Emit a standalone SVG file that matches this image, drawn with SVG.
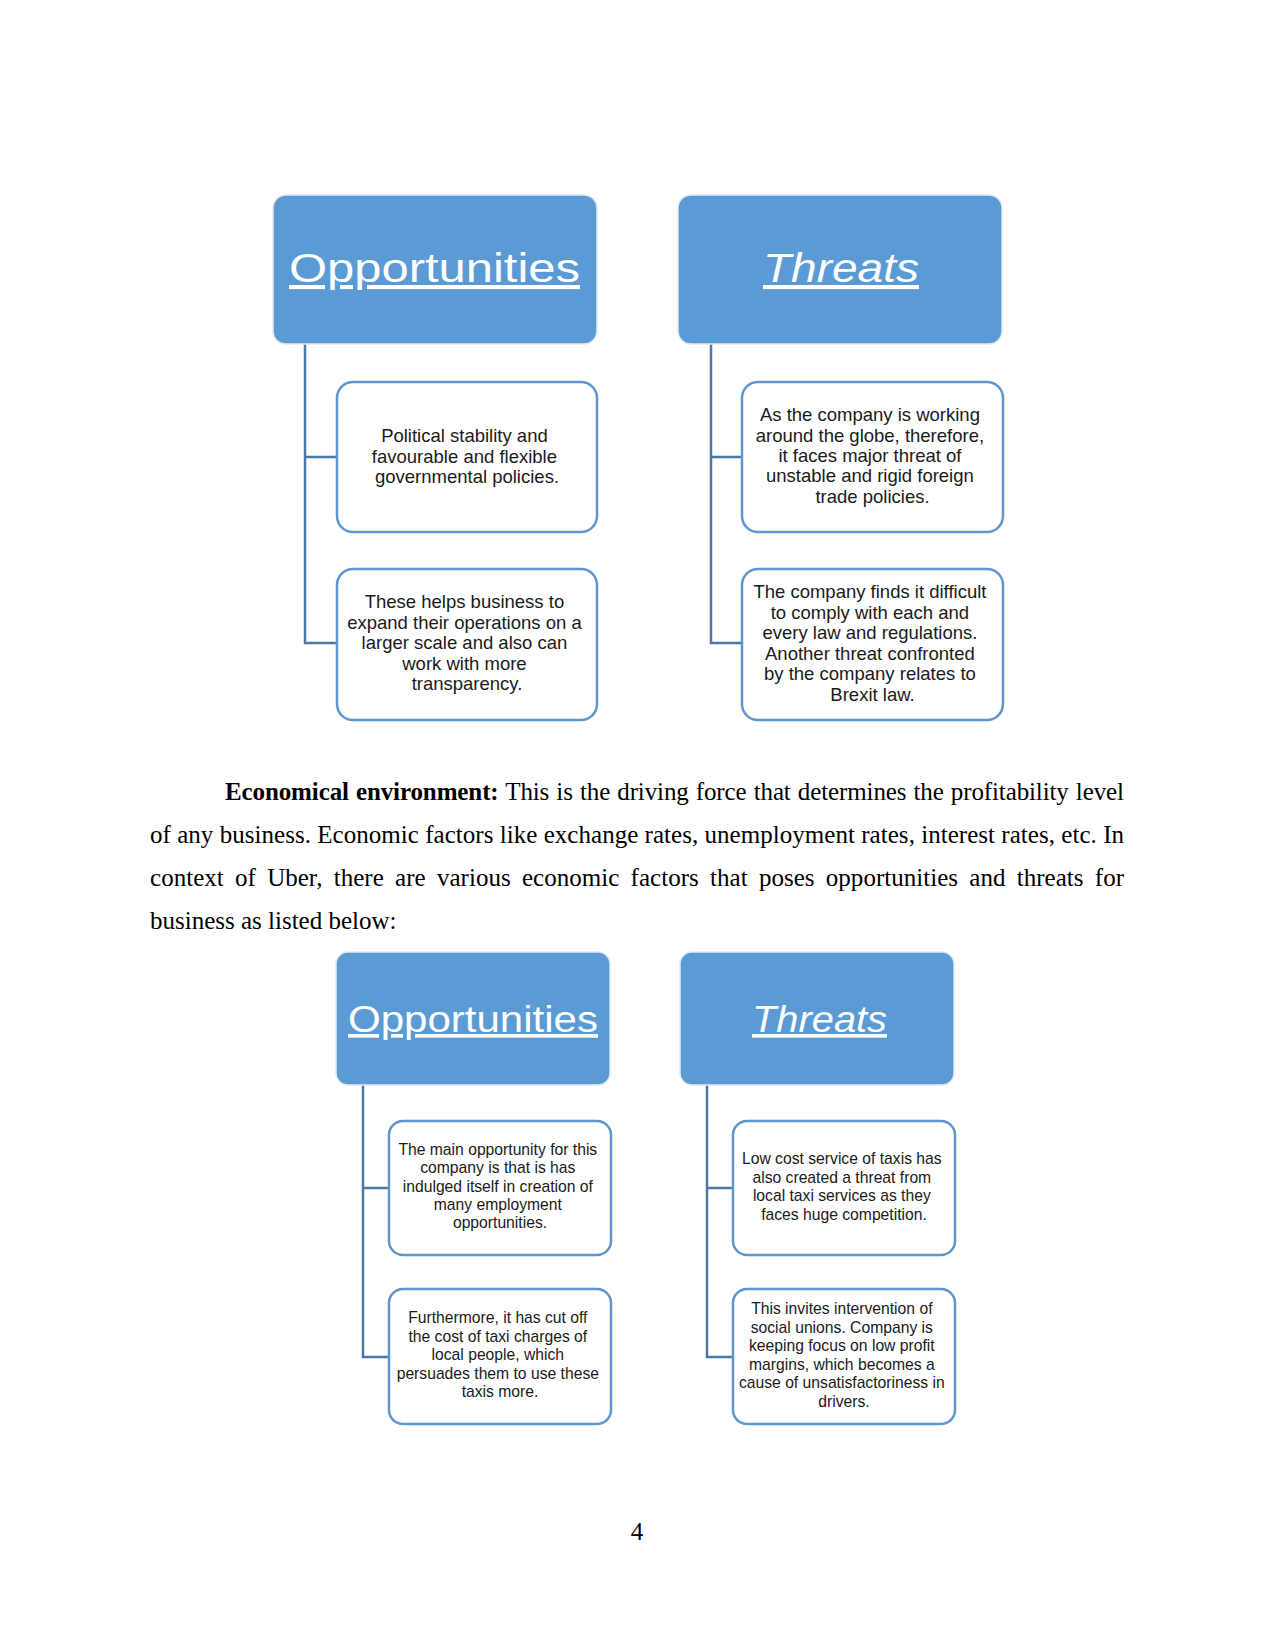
<svg xmlns="http://www.w3.org/2000/svg" width="1275" height="1651" viewBox="0 0 1275 1651">
<style>
.bg{fill:#ffffff}
.hdr{fill:#5B9BD5;stroke:#e3e9f0;stroke-width:1.5}
.hdrTxt{font-family:"Liberation Sans",Arial,sans-serif;fill:#ffffff;text-anchor:middle;text-decoration:underline}
.child{fill:#ffffff;stroke:#5F96CF;stroke-width:2.5}
.ctxt{font-family:"Liberation Sans",Arial,sans-serif;fill:#1a1a1a;text-anchor:middle}
.t1{font-size:18.5px}
.t2{font-size:15.7px}
.conn{fill:none;stroke:#4A78A8;stroke-width:2.5}
.para{font-family:"Liberation Serif","Times New Roman",serif;font-size:25px;fill:#000000}
</style>
<rect class="bg" x="0" y="0" width="1275" height="1651"/>

<g id="connectors">
  <path class="conn" d="M305 344 V643 H337 M305 457 H337"/>
  <path class="conn" d="M711 344 V643 H742 M711 457 H742"/>
  <path class="conn" d="M363 1085 V1357 H389 M363 1188 H389"/>
  <path class="conn" d="M707 1085 V1357 H733 M707 1188 H733"/>
</g>

<!-- Top diagram -->
<g id="opp1-header">
  <rect class="hdr" x="273" y="195" width="324" height="149" rx="13"/>
  <text class="hdrTxt" x="434.5" y="282" font-size="41" textLength="291" lengthAdjust="spacingAndGlyphs">Opportunities</text>
</g>
<g id="opp1-child1">
  <rect class="child" x="337" y="382" width="260" height="150" rx="16"/>
  <text class="ctxt t1" x="467">
    <tspan x="467" y="442">Political stability and</tspan>
    <tspan x="467" y="462.5">favourable and flexible</tspan>
    <tspan x="467" y="483">governmental policies.</tspan>
  </text>
</g>
<g id="opp1-child2">
  <rect class="child" x="337" y="569" width="260" height="151" rx="16"/>
  <text class="ctxt t1" x="467">
    <tspan x="467" y="608">These helps business to</tspan>
    <tspan x="467" y="628.5">expand their operations on a</tspan>
    <tspan x="467" y="649">larger scale and also can</tspan>
    <tspan x="467" y="669.5">work with more</tspan>
    <tspan x="467" y="690">transparency.</tspan>
  </text>
</g>

<g id="thr1-header">
  <rect class="hdr" x="678" y="195" width="324" height="149" rx="13"/>
  <text class="hdrTxt" x="841" y="282" font-size="41" font-style="italic" textLength="156" lengthAdjust="spacingAndGlyphs">Threats</text>
</g>
<g id="thr1-child1">
  <rect class="child" x="742" y="382" width="261" height="150" rx="16"/>
  <text class="ctxt t1" x="872.5">
    <tspan x="872.5" y="421">As the company is working</tspan>
    <tspan x="872.5" y="441.5">around the globe, therefore,</tspan>
    <tspan x="872.5" y="462">it faces major threat of</tspan>
    <tspan x="872.5" y="482">unstable and rigid foreign</tspan>
    <tspan x="872.5" y="502.5">trade policies.</tspan>
  </text>
</g>
<g id="thr1-child2">
  <rect class="child" x="742" y="569" width="261" height="151" rx="16"/>
  <text class="ctxt t1" x="872.5">
    <tspan x="872.5" y="598">The company finds it difficult</tspan>
    <tspan x="872.5" y="618.6">to comply with each and</tspan>
    <tspan x="872.5" y="639.2">every law and regulations.</tspan>
    <tspan x="872.5" y="659.8">Another threat confronted</tspan>
    <tspan x="872.5" y="680.4">by the company relates to</tspan>
    <tspan x="872.5" y="701">Brexit law.</tspan>
  </text>
</g>

<!-- Paragraph -->
<g id="paragraph">
  <text class="para" x="225" y="800" word-spacing="1" textLength="899" lengthAdjust="spacing"><tspan font-weight="bold">Economical environment:</tspan> This is the driving force that determines the profitability level</text>
  <text class="para" x="150" y="843" textLength="974" lengthAdjust="spacing">of any business. Economic factors like exchange rates, unemployment rates, interest rates, etc. In</text>
  <text class="para" x="150" y="886" word-spacing="5" textLength="974" lengthAdjust="spacing">context of Uber, there are various economic factors that poses opportunities and threats for</text>
  <text class="para" x="150" y="929">business as listed below:</text>
</g>

<!-- Bottom diagram -->
<g id="opp2-header">
  <rect class="hdr" x="336" y="952" width="274" height="133" rx="12"/>
  <text class="hdrTxt" x="473" y="1032" font-size="37" textLength="250" lengthAdjust="spacingAndGlyphs">Opportunities</text>
</g>
<g id="opp2-child1">
  <rect class="child" x="389" y="1121" width="222" height="134" rx="14"/>
  <text class="ctxt t2" x="500">
    <tspan x="500" y="1155">The main opportunity for this</tspan>
    <tspan x="500" y="1173.3">company is that is has</tspan>
    <tspan x="500" y="1191.6">indulged itself in creation of</tspan>
    <tspan x="500" y="1209.9">many employment</tspan>
    <tspan x="500" y="1228.2">opportunities.</tspan>
  </text>
</g>
<g id="opp2-child2">
  <rect class="child" x="389" y="1289" width="222" height="135" rx="14"/>
  <text class="ctxt t2" x="500">
    <tspan x="500" y="1323">Furthermore, it has cut off</tspan>
    <tspan x="500" y="1341.5">the cost of taxi charges of</tspan>
    <tspan x="500" y="1360">local people, which</tspan>
    <tspan x="500" y="1378.5">persuades them to use these</tspan>
    <tspan x="500" y="1397">taxis more.</tspan>
  </text>
</g>

<g id="thr2-header">
  <rect class="hdr" x="680" y="952" width="274" height="133" rx="12"/>
  <text class="hdrTxt" x="819.5" y="1032" font-size="37" font-style="italic" textLength="135" lengthAdjust="spacingAndGlyphs">Threats</text>
</g>
<g id="thr2-child1">
  <rect class="child" x="733" y="1121" width="222" height="134" rx="14"/>
  <text class="ctxt t2" x="844">
    <tspan x="844" y="1164">Low cost service of taxis has</tspan>
    <tspan x="844" y="1182.5">also created a threat from</tspan>
    <tspan x="844" y="1201">local taxi services as they</tspan>
    <tspan x="844" y="1219.5">faces huge competition.</tspan>
  </text>
</g>
<g id="thr2-child2">
  <rect class="child" x="733" y="1289" width="222" height="135" rx="14"/>
  <text class="ctxt t2" x="844">
    <tspan x="844" y="1314">This invites intervention of</tspan>
    <tspan x="844" y="1332.6">social unions. Company is</tspan>
    <tspan x="844" y="1351.2">keeping focus on low profit</tspan>
    <tspan x="844" y="1369.8">margins, which becomes a</tspan>
    <tspan x="844" y="1388.4">cause of unsatisfactoriness in</tspan>
    <tspan x="844" y="1407">drivers.</tspan>
  </text>
</g>

<text class="para" x="637" y="1540" text-anchor="middle">4</text>
</svg>
